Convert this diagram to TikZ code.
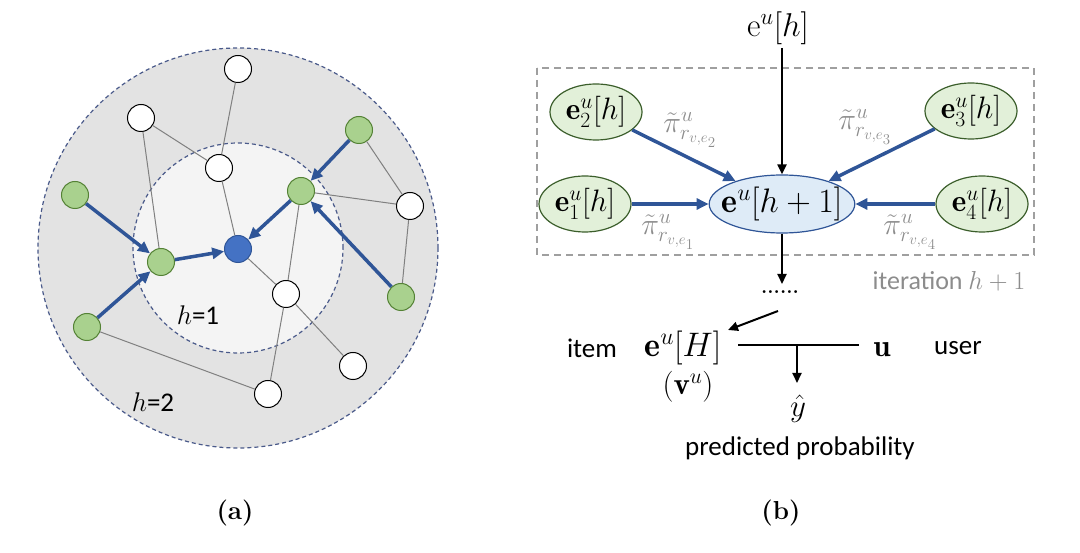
\RequirePackage{fix-cm}
\documentclass[tikz,border=0pt]{standalone}
\usepackage{fontspec}
\newfontfamily\carlito{Carlito}
\usepackage{amsmath}
\usetikzlibrary{arrows.meta,shapes.geometric}
\definecolor{gfill}{HTML}{A9D18E}
\definecolor{gdraw}{HTML}{548235}
\definecolor{bnode}{HTML}{4472C4}
\definecolor{bdraw}{HTML}{2F5597}
\definecolor{barrow}{HTML}{2F5597}
\definecolor{outerg}{HTML}{E3E3E3}
\definecolor{innerg}{HTML}{F4F4F4}
\definecolor{ringc}{HTML}{4A5A8A}
\definecolor{lgreen}{HTML}{E2F0D9}
\definecolor{dgreen}{HTML}{3B5E2B}
\definecolor{lblue}{HTML}{DEEBF7}
\definecolor{labgray}{HTML}{8C8C8C}
\tikzset{
  ringline/.style={draw=ringc, line width=1.2pt, dash pattern=on 4pt off 3pt},
  wnode/.style={circle, draw=black, fill=white, line width=1pt, minimum size=27pt, inner sep=0pt},
  gnode/.style={circle, draw=gdraw, fill=gfill, line width=1pt, minimum size=27pt, inner sep=0pt},
  bnode/.style={circle, draw=bdraw, fill=bnode, line width=1pt, minimum size=27pt, inner sep=0pt},
  gedge/.style={draw=gray, line width=1pt},
  barr/.style={draw=barrow, line width=3.5pt, -{Triangle[length=12pt,width=11pt]}},
  blk/.style={draw=black, line width=2pt, -{Triangle[length=10pt,width=9pt]}},
  gell/.style={ellipse, draw=dgreen, fill=lgreen, line width=1.2pt, minimum width=92pt, minimum height=56pt, inner xsep=-2pt, inner ysep=0pt, font=\fontsize{31}{34}\selectfont},
  cell/.style={ellipse, draw=bdraw, fill=lblue, line width=1.2pt, minimum width=145pt, minimum height=58pt, inner xsep=-9pt, inner ysep=0pt, font=\fontsize{34}{36}\selectfont},
  glab/.style={text=labgray, font=\fontsize{30}{32}\selectfont, inner sep=0pt},
  carl/.style={font=\carlito\fontsize{27}{30}\selectfont, inner sep=0pt},
  mth/.style={font=\fontsize{31}{34}\selectfont, inner sep=0pt},
}
\begin{document}
\begin{tikzpicture}[x=1pt,y=-1pt]
\useasboundingbox (0,0) rectangle (1080,553);
% ----- (a) -----
\draw[ringline, fill=outerg] (238,248) circle[radius=200pt];
\draw[ringline, fill=innerg] (238,248) circle[radius=105pt];
\node[wnode] (w1) at (238,69) {};
\node[wnode] (w2) at (141,118) {};
\node[wnode] (w3) at (219,168) {};
\node[gnode] (g1) at (359,130) {};
\node[gnode] (g2) at (301,191) {};
\node[wnode] (w4) at (410,206) {};
\node[gnode] (g3) at (75,195) {};
\node[bnode] (b)  at (238,249) {};
\node[gnode] (g4) at (161,262) {};
\node[gnode] (g5) at (401,297) {};
\node[wnode] (w5) at (286,294) {};
\node[gnode] (g6) at (87,327) {};
\node[wnode] (w6) at (353,366) {};
\node[wnode] (w7) at (268,394) {};
\draw[gedge] (w1) -- (w3);
\draw[gedge] (w2) -- (w3);
\draw[gedge] (w2) -- (g4);
\draw[gedge] (w3) -- (b);
\draw[gedge] (b) -- (w5);
\draw[gedge] (g2) -- (w4);
\draw[gedge] (g1) -- (w4);
\draw[gedge] (w4) -- (g5);
\draw[gedge] (g2) -- (w5);
\draw[gedge] (w5) -- (w7);
\draw[gedge] (w5) -- (w6);
\draw[gedge] (g6) -- (w7);
\draw[barr] (g3) -- (g4);
\draw[barr] (g6) -- (g4);
\draw[barr] (g4) -- (b);
\draw[barr] (g2) -- (b);
\draw[barr] (g1) -- (g2);
\draw[barr] (g5) -- (g2);
\node[carl] (h1) at (198,315) {$h$=1};
\node[carl] (h2) at (153,402) {$h$=2};
\node[font=\bfseries\fontsize{26}{28}\selectfont] (la) at (235,513) {(a)};
% ----- (b) -----
\draw[draw=gray!75, line width=1.5pt, dash pattern=on 7pt off 5pt] (537,68) rectangle (1034,255);
\node[mth, font=\fontsize{33}{35}\selectfont] (top) at (778,28) {$\mathrm{e}^u[h]$};
\node[cell] (c) at (782,204) {$\mathbf{e}^u[h+1]$};
\node[gell] (e2) at (596,112) {$\mathbf{e}^u_2[h]$};
\node[gell] (e1) at (585,204) {$\mathbf{e}^u_1[h]$};
\node[gell] (e3) at (971,111) {$\mathbf{e}^u_3[h]$};
\node[gell] (e4) at (982,204) {$\mathbf{e}^u_4[h]$};
\coordinate (tb) at (782,48);
\draw[blk] (tb) -- (c);
\draw[barr] (e2) -- (c);
\draw[barr] (e1) -- (c);
\draw[barr] (e3) -- (c);
\draw[barr] (e4) -- (c);
\node[glab] (p2) at (690,130) {$\tilde{\pi}^u_{r_{v,e_2}}$};
\node[glab] (p3) at (865,127) {$\tilde{\pi}^u_{r_{v,e_3}}$};
\node[glab] (p1) at (668,232) {$\tilde{\pi}^u_{r_{v,e_1}}$};
\node[glab] (p4) at (910,232) {$\tilde{\pi}^u_{r_{v,e_4}}$};
\coordinate (dd) at (782,284);
\draw[blk] (c) -- (dd);
\node[carl, text=labgray, font=\carlito\fontsize{26}{28}\selectfont] (it) at (949,281) {iteration $h+1$};
\node[font=\bfseries\fontsize{20}{22}\selectfont, inner sep=0pt] (dots) at (780,292) {......};
\node[carl] (item) at (592,348) {item};
\node[mth, font=\fontsize{34}{36}\selectfont] (eH) at (683,348) {$\mathbf{e}^u[H]$};
\node[mth] (vu) at (688,387) {$(\mathbf{v}^u)$};
\node[mth] (u) at (882,350) {$\mathbf{u}$};
\node[carl] (user) at (958,348) {user};
\node[mth] (yh) at (798,409) {$\hat{y}$};
\node[carl] (pp) at (800,448) {predicted probability};
\coordinate (a1) at (778,311);
\coordinate (a2) at (728,330);
\draw[blk] (a1) -- (a2);
\coordinate (m) at (797,345);
\coordinate (yt) at (797,383);
\draw[draw=black, line width=2pt] (738,345) -- (859,345);
\draw[blk] (m) -- (yt);
\node[font=\bfseries\fontsize{26}{28}\selectfont] (lb) at (781,513) {(b)};
\end{tikzpicture}
\end{document}
